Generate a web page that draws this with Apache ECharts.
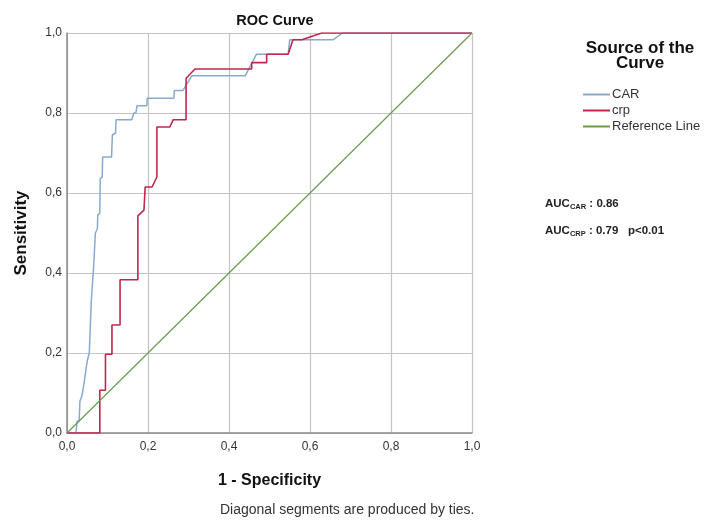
<!DOCTYPE html>
<html lang="en">
	<head>
		<meta charset="UTF-8" />
		<title>ROC Curve</title>
		<script src="https://cdn.jsdelivr.net/npm/echarts@6.0.0/dist/echarts.min.js"></script>
		<style>
			body { margin: 0; background: #fff; }
		</style>
	</head>
	<body>
		<div id="main" style="width: 713px; height: 520px"></div>
		<script type="text/javascript">
			// ROC points (1 - specificity, sensitivity)
			const carFpr = [0, 0.022, 0.025, 0.03, 0.032, 0.036, 0.04, 0.044, 0.05, 0.055, 0.06, 0.066, 0.07, 0.075, 0.076, 0.081, 0.082, 0.087, 0.088, 0.11, 0.112, 0.12, 0.121, 0.16, 0.165, 0.17, 0.173, 0.197, 0.198, 0.264, 0.265, 0.286, 0.308, 0.44, 0.468, 0.546, 0.55, 0.657, 0.68, 1];
			const carTpr = [0, 0, 0.03, 0.03, 0.08, 0.09, 0.11, 0.115, 0.18, 0.2, 0.33, 0.42, 0.5, 0.51, 0.545, 0.55, 0.635, 0.64, 0.69, 0.69, 0.745, 0.75, 0.783, 0.783, 0.8, 0.8, 0.818, 0.818, 0.837, 0.837, 0.856, 0.856, 0.893, 0.893, 0.947, 0.947, 0.983, 0.983, 1, 1];
			const crpFpr = [0, 0.081, 0.081, 0.095, 0.095, 0.111, 0.111, 0.131, 0.131, 0.175, 0.175, 0.19, 0.193, 0.21, 0.222, 0.222, 0.254, 0.262, 0.294, 0.294, 0.316, 0.456, 0.456, 0.493, 0.493, 0.546, 0.558, 0.58, 0.629, 1];
			const crpTpr = [0, 0, 0.107, 0.107, 0.197, 0.197, 0.27, 0.27, 0.383, 0.383, 0.543, 0.557, 0.615, 0.615, 0.64, 0.765, 0.765, 0.783, 0.783, 0.887, 0.91, 0.91, 0.926, 0.926, 0.947, 0.947, 0.983, 0.983, 1, 1];
			const refX = [0, 1];
			const refY = [0, 1];
			const seriesNames = ["CAR", "crp", "Reference Line"];
			const seriesColors = ["#88aacd", "#c4244e", "#6a9b4c"];

			const pairs = (xs, ys) => xs.map((x, i) => [x, ys[i]]);
			const tickFmt = (v) => v.toFixed(1).replace(".", ",");
			const font = "Liberation Sans";

			const chart = echarts.init(document.getElementById("main"));
			const axisCommon = {
				type: "value",
				min: 0,
				max: 1,
				interval: 0.2,
				axisLine: { show: true, lineStyle: { color: "#8a8a8a", width: 1.5 } },
				axisTick: { show: false },
				splitLine: { show: true, lineStyle: { color: "#c4c4c4", width: 1.2 } },
				axisLabel: { formatter: tickFmt, color: "#333", fontSize: 12, fontFamily: font },
				nameTextStyle: { fontSize: 16, fontWeight: "bold", color: "#111", fontFamily: font },
			};
			const aucRich = {
				a: { fontSize: 11.5, fontWeight: "bold", fill: "#222", fontFamily: font },
				s: { fontSize: 7.5, fontWeight: "bold", fill: "#222", fontFamily: font, verticalAlign: "bottom", padding: [5, 0, 0, 0] },
			};

			chart.setOption({
				animation: false,
				title: {
					text: "ROC Curve",
					left: 270,
					textAlign: "center",
					top: 8,
					textStyle: { fontSize: 14.5, fontWeight: "bold", color: "#111", fontFamily: font },
				},
				grid: { left: 67, right: 241, top: 33, bottom: 87 },
				xAxis: Object.assign({}, axisCommon, {
					name: "1 - Specificity",
					nameLocation: "middle",
					nameGap: 40,
					axisLabel: Object.assign({}, axisCommon.axisLabel, { margin: 8 }),
				}),
				yAxis: Object.assign({}, axisCommon, {
					name: "Sensitivity",
					nameLocation: "middle",
					nameGap: 37,
					nameTextStyle: Object.assign({}, axisCommon.nameTextStyle, { fontSize: 17 }),
					axisLabel: Object.assign({}, axisCommon.axisLabel, { margin: 5 }),
				}),
				legend: {
					orient: "vertical",
					left: 578,
					top: 83,
					itemWidth: 27,
					itemHeight: 2,
					itemGap: 3,
					icon: "rect",
					data: seriesNames,
					textStyle: { fontSize: 13, color: "#333", fontFamily: font, padding: [0, 0, 0, -3] },
				},
				graphic: [
					{
						type: "text",
						x: 640,
						y: 41,
						style: {
							text: "Source of the\nCurve",
							align: "center",
							fontSize: 17,
							lineHeight: 15,
							fontWeight: "bold",
							fill: "#111",
							fontFamily: font,
						},
					},
					{
						type: "text",
						left: 545,
						top: 198,
						style: { text: "{a|AUC}{s|CAR}{a| : 0.86}", rich: aucRich },
					},
					{
						type: "text",
						left: 545,
						top: 225,
						style: { text: "{a|AUC}{s|CRP}{a| : 0.79   p<0.01}", rich: aucRich },
					},
					{
						type: "text",
						left: 220,
						top: 503,
						style: {
							text: "Diagonal segments are produced by ties.",
							fontSize: 14,
							fill: "#333",
							fontFamily: font,
						},
					},
				],
				series: [
					{
						name: seriesNames[0],
						type: "line",
						data: pairs(carFpr, carTpr),
						showSymbol: false,
						symbol: "none",
						color: seriesColors[0],
						lineStyle: { width: 1.5 },
					},
					{
						name: seriesNames[1],
						type: "line",
						data: pairs(crpFpr, crpTpr),
						showSymbol: false,
						symbol: "none",
						color: seriesColors[1],
						lineStyle: { width: 1.6 },
					},
					{
						name: seriesNames[2],
						type: "line",
						data: pairs(refX, refY),
						showSymbol: false,
						symbol: "none",
						color: seriesColors[2],
						lineStyle: { width: 1.2 },
					},
				],
			});
		</script>
	</body>
</html>
